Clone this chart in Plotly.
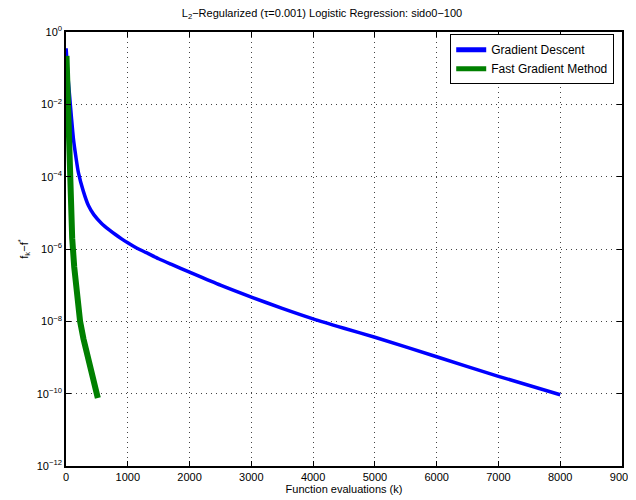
import plotly.graph_objects as go

# Gradient Descent: function evaluations and log10(f_k - f*)
gd_x = [2, 30, 60, 90, 120, 160, 200, 280, 363, 450, 580, 700, 800, 900, 1000, 1100, 1200,
        1300, 1500, 1700, 2000, 2500, 3000, 3500, 4000, 4500, 5000, 6000, 7000, 8000]
gd_log = [-0.45, -1.2, -1.8, -2.4, -2.95, -3.45, -3.88, -4.4, -4.8, -5.05, -5.3, -5.47,
          -5.6, -5.72, -5.83, -5.93, -6.02, -6.1, -6.27, -6.42, -6.64, -7.0, -7.33, -7.64,
          -7.93, -8.19, -8.44, -8.98, -9.52, -10.03]

# Fast Gradient Method
fgm_x = [8, 20, 30, 40, 60, 76, 100, 133, 173, 228, 282, 401, 515]
fgm_log = [-0.66, -1.5, -2.3, -3.0, -4.0, -4.8, -5.7, -6.5, -7.2, -8.0, -8.48, -9.31, -10.12]

y_tick_exp = [0, -2, -4, -6, -8, -10, -12]
x_ticks = [0, 1000, 2000, 3000, 4000, 5000, 6000, 7000, 8000, 9000]

gd_y = [10 ** v for v in gd_log]
fgm_y = [10 ** v for v in fgm_log]

FONT = "Liberation Sans, Arial, Helvetica, sans-serif"

fig = go.Figure()
fig.add_trace(go.Scatter(x=gd_x, y=gd_y, mode="lines", name="Gradient Descent",
                         line=dict(color="#0000ff", width=3.5, shape="spline", smoothing=0.6)))
fig.add_trace(go.Scatter(x=fgm_x, y=fgm_y, mode="lines", name="Fast Gradient Method",
                         line=dict(color="#008000", width=6)))

axis_common = dict(
    showline=True, linecolor="black", linewidth=1.5, mirror="ticks",
    ticks="inside", ticklen=5, tickcolor="black", tickwidth=1,
    showgrid=True, gridcolor="#444444", gridwidth=1, griddash="1px,4px",
    zeroline=False, automargin=False,
    tickfont=dict(family=FONT, size=11, color="black"),
)

fig.update_xaxes(range=[0, 9000], tickvals=x_ticks, ticktext=[str(v) for v in x_ticks],
                 title=dict(text="Function evaluations (k)", standoff=2,
                            font=dict(family=FONT, size=11, color="black")),
                 **axis_common)
fig.update_yaxes(type="log", range=[-12, 0],
                 tickvals=[10 ** e for e in y_tick_exp],
                 ticktext=["10<sup>%s</sup>" % (str(e).replace("-", "\u2212")) for e in y_tick_exp],
                 title=dict(text="f<sub>k</sub>\u2212f<sup>*</sup>", standoff=6,
                            font=dict(family=FONT, size=11, color="black")),
                 **axis_common)

# page body adds an 8px offset, so the figure is sized to fit the 636x500 window
fig.update_layout(
    width=628, height=492,
    margin=dict(l=58, r=14, t=24, b=34),
    paper_bgcolor="white", plot_bgcolor="white",
    title=dict(text="L<sub>2</sub>\u2212Regularized (\u03c4=0.001) Logistic Regression: sido0\u2212100",
               x=0.5, xanchor="center", y=0.99, yanchor="middle",
               font=dict(family=FONT, size=11, color="black")),
    legend=dict(x=0.986, xanchor="right", y=0.995, yanchor="top",
                bordercolor="black", borderwidth=1, bgcolor="white",
                font=dict(family=FONT, size=12, color="black"),
                tracegroupgap=0, itemsizing="constant"),
    showlegend=True,
)

fig.write_html("out.html")
